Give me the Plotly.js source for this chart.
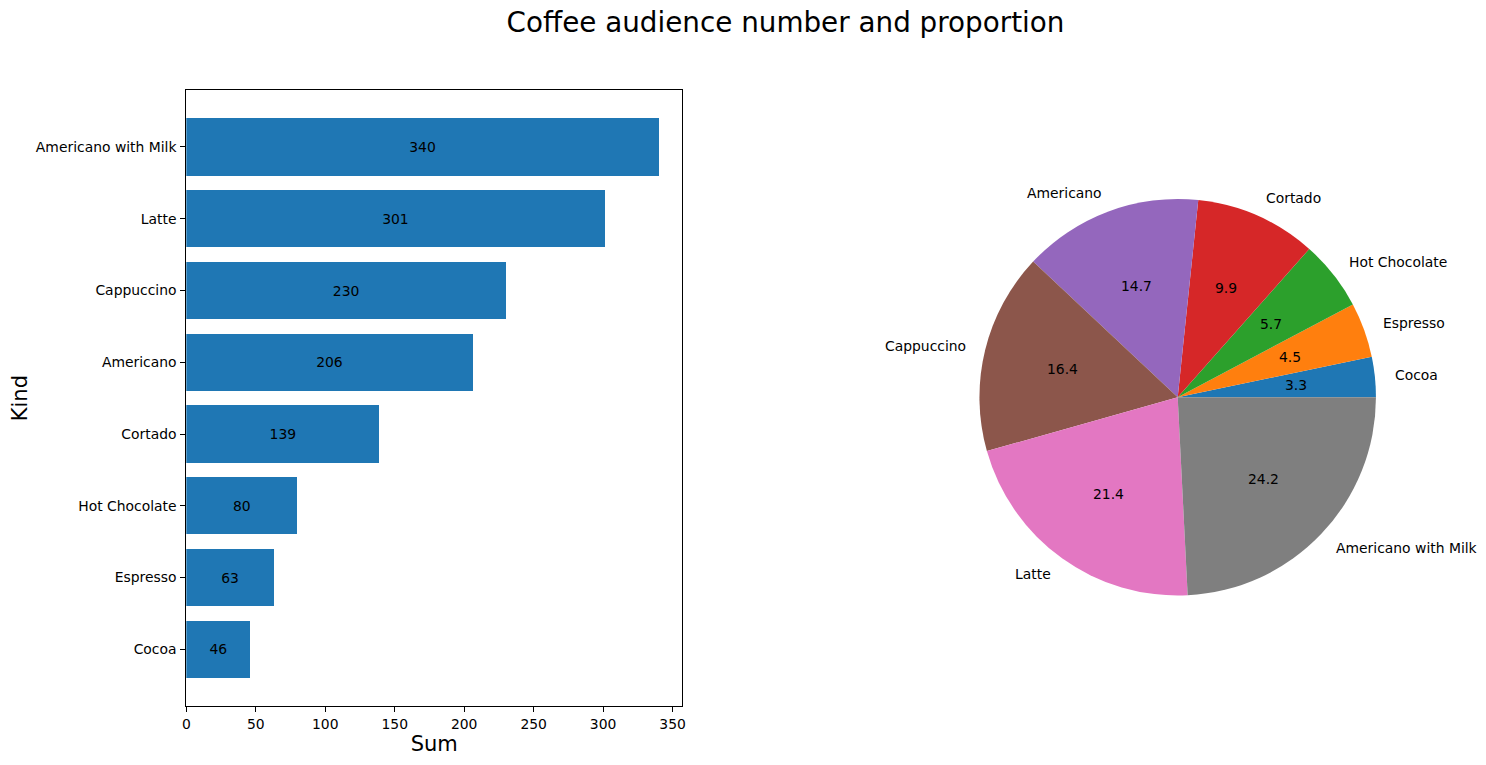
<!DOCTYPE html>
<html>
<head>
<meta charset="utf-8">
<script src="https://cdn.plot.ly/plotly-3.0.1.min.js"></script>
<style>html,body{margin:0;padding:0;background:#fff;}#chart{width:1486px;height:765px;}</style>
</head>
<body>
<div id="chart"></div>
<script>
const kinds = ['Cocoa', 'Espresso', 'Hot Chocolate', 'Cortado', 'Americano', 'Cappuccino', 'Latte', 'Americano with Milk'];
const sums = [46, 63, 80, 139, 206, 230, 301, 340];
const sliceColors = ['#1f77b4', '#ff7f0e', '#2ca02c', '#d62728', '#9467bd', '#8c564b', '#e377c2', '#7f7f7f'];
const xTicks = [0, 50, 100, 150, 200, 250, 300, 350];

const W = 1486, H = 765;
const FONT = 'DejaVu Sans, sans-serif';
const pieDomX = [979.4 / W, 1376.0 / W];
const pieDomY = [1 - 595.5 / H, 1 - 199.0 / H];
const total = sums.reduce((a, b) => a + b, 0);

const barTrace = {
  type: 'bar',
  orientation: 'h',
  y: kinds,
  x: sums,
  width: 0.8,
  marker: {color: '#1f77b4', line: {width: 0}},
  text: sums.map(String),
  textposition: 'inside',
  insidetextanchor: 'middle',
  constraintext: 'none',
  textfont: {family: FONT, size: 13.9, color: '#000'},
  hoverinfo: 'x+y',
  xaxis: 'x', yaxis: 'y',
  showlegend: false
};

// Plotly ends the first counterclockwise slice at "rotation"; shift so it starts at 3 o'clock
const pieTrace = {
  type: 'pie',
  labels: kinds,
  values: sums,
  sort: false,
  direction: 'counterclockwise',
  rotation: 90 - 360 * sums[0] / total,
  marker: {colors: sliceColors, line: {width: 0}},
  textinfo: 'none',
  domain: {x: pieDomX, y: pieDomY},
  showlegend: false
};

// pie label annotations (matplotlib style: labels at 1.1 r, percentages at 0.6 r)
const cxPx = (pieDomX[0] + pieDomX[1]) / 2 * W;
const cyPx = (1 - (pieDomY[0] + pieDomY[1]) / 2) * H;
const rPx = Math.min((pieDomX[1] - pieDomX[0]) * W, (pieDomY[1] - pieDomY[0]) * H) / 2;
const annotations = [];
let cum = 0;
sums.forEach((v, i) => {
  const mid = (cum + v / 2) / total * 2 * Math.PI;
  cum += v;
  const c = Math.cos(mid), s = Math.sin(mid);
  const lx = cxPx + 1.1 * rPx * c, ly = cyPx - 1.1 * rPx * s;
  annotations.push({
    xref: 'paper', yref: 'paper', x: lx / W, y: 1 - ly / H,
    xanchor: c >= 0 ? 'left' : 'right', yanchor: 'middle',
    text: kinds[i], showarrow: false, borderpad: 0, borderwidth: 0,
    font: {family: FONT, size: 13.9, color: '#000'}
  });
  const px = cxPx + 0.6 * rPx * c, py = cyPx - 0.6 * rPx * s;
  annotations.push({
    xref: 'paper', yref: 'paper', x: px / W, y: 1 - py / H,
    xanchor: 'center', yanchor: 'middle',
    text: (v / total * 100).toFixed(1), showarrow: false, borderpad: 0, borderwidth: 0,
    font: {family: FONT, size: 13.9, color: '#000'}
  });
});

const layout = {
  width: W, height: H,
  margin: {l: 0, r: 0, t: 0, b: 0, pad: 0},
  paper_bgcolor: '#fff', plot_bgcolor: '#fff',
  font: {family: FONT, color: '#000'},
  title: {
    text: 'Coffee audience number and proportion',
    x: 785.5 / W, xanchor: 'center', xref: 'paper',
    y: 1 - 22 / H, yanchor: 'middle', yref: 'paper',
    font: {family: FONT, size: 27.8, color: '#000'}
  },
  showlegend: false,
  xaxis: {
    domain: [186.3 / W, 682.3 / W],
    range: [0, 357],
    tickvals: xTicks,
    ticktext: xTicks.map(String),
    ticks: 'outside', ticklen: 5, tickwidth: 1, tickcolor: '#000',
    showline: true, mirror: true, linecolor: '#000', linewidth: 1,
    showgrid: false, zeroline: false,
    tickfont: {family: FONT, size: 13.9, color: '#000'},
    title: {text: 'Sum', font: {family: FONT, size: 21, color: '#000'}, standoff: 4},
    anchor: 'y'
  },
  yaxis: {
    domain: [1 - 706 / H, 1 - 90.3 / H],
    type: 'category',
    range: [-0.79, 7.79],
    ticks: 'outside', ticklen: 5, tickwidth: 1, tickcolor: '#000',
    showline: true, mirror: true, linecolor: '#000', linewidth: 1,
    showgrid: false, zeroline: false,
    tickfont: {family: FONT, size: 13.9, color: '#000'},
    ticklabelstandoff: 1,
    title: {text: 'Kind', font: {family: FONT, size: 21, color: '#000'}, standoff: 2},
    anchor: 'x'
  },
  annotations: annotations,
  bargap: 0
};

Plotly.newPlot('chart', [barTrace, pieTrace], layout, {displayModeBar: false, staticPlot: true});
</script>
</body>
</html>
